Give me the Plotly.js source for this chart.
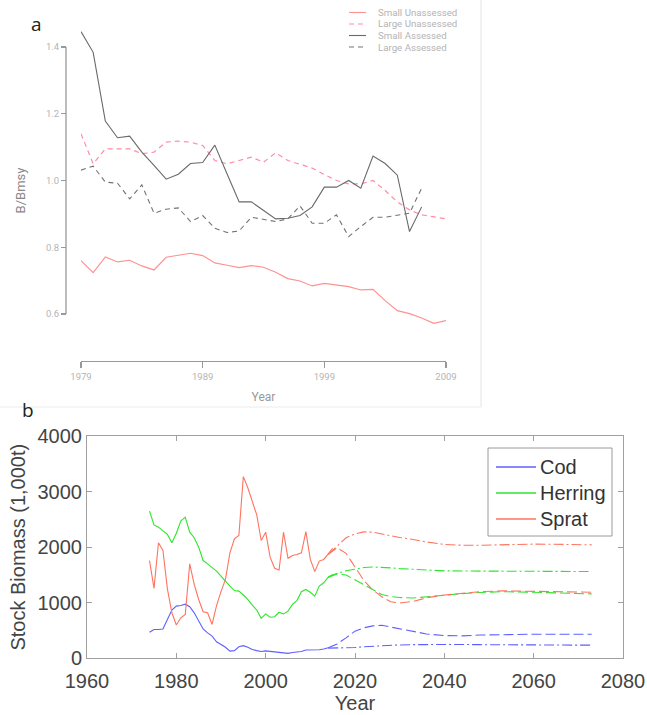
<!DOCTYPE html>
<html>
<head>
<meta charset="utf-8">
<script src="https://cdn.plot.ly/plotly-3.0.1.min.js"></script>
<style>html,body{margin:0;padding:0;background:#fff;}#chart{width:647px;height:715px;}</style>
</head>
<body>
<div id="chart"></div>
<script>
// ---------- Panel a data ----------
const yearsA = [1979,1980,1981,1982,1983,1984,1985,1986,1987,1988,1989,1990,1991,1992,1993,1994,1995,1996,1997,1998,1999,2000,2001,2002,2003,2004,2005,2006,2007,2008,2009];
const smallUnassessed = [0.760,0.724,0.771,0.756,0.761,0.744,0.732,0.770,0.776,0.782,0.775,0.753,0.746,0.739,0.745,0.740,0.725,0.706,0.699,0.684,0.692,0.688,0.682,0.672,0.674,0.640,0.610,0.601,0.588,0.572,0.580];
const largeUnassessed = [1.140,1.050,1.095,1.095,1.095,1.080,1.085,1.115,1.118,1.115,1.105,1.060,1.050,1.060,1.070,1.055,1.083,1.060,1.049,1.037,1.018,1.000,0.990,0.990,1.000,0.970,0.936,0.912,0.897,0.892,0.885];
const yearsAssessed = [1979,1980,1981,1982,1983,1984,1985,1986,1987,1988,1989,1990,1991,1992,1993,1994,1995,1996,1997,1998,1999,2000,2001,2002,2003,2004,2005,2006,2007];
const smallAssessed = [1.446,1.384,1.178,1.128,1.133,1.085,1.045,1.004,1.019,1.051,1.054,1.106,1.020,0.936,0.936,0.910,0.885,0.887,0.895,0.921,0.980,0.980,1.000,0.977,1.073,1.051,1.016,0.847,0.921];
const largeAssessed = [1.031,1.043,0.995,0.992,0.945,0.987,0.902,0.914,0.918,0.877,0.895,0.857,0.844,0.849,0.890,0.884,0.877,0.885,0.924,0.872,0.872,0.897,0.832,0.862,0.890,0.890,0.897,0.902,0.977];
const ticksA_x = [1979,1989,1999,2009];
const ticksA_y = [0.6,0.8,1.0,1.2,1.4];
const legendA = ["Small Unassessed","Large Unassessed","Small Assessed","Large Assessed"];

// ---------- Panel b data ----------
const yearsHist = [1974,1975,1976,1977,1978,1979,1980,1981,1982,1983,1984,1985,1986,1987,1988,1989,1990,1991,1992,1993,1994,1995,1996,1997,1998,1999,2000,2001,2002,2003,2004,2005,2006,2007,2008,2009,2010,2011,2012,2013,2014,2015];
const codHist = [470,520,520,530,700,870,940,950,975,930,820,670,530,460,400,300,250,200,130,140,210,230,200,160,140,125,135,125,115,108,100,90,105,115,125,150,150,150,155,170,190,null];
const herringHist = [2650,2400,2360,2300,2230,2080,2250,2470,2540,2270,2170,2000,1760,1700,1640,1570,1480,1380,1300,1220,1210,1140,1060,960,870,720,800,740,750,830,800,850,970,1040,1200,1240,1190,1120,1300,1360,1460,1510];
const spratHist = [1760,1260,2080,1940,1250,820,600,730,790,1700,1330,1060,840,820,610,950,1200,1420,1900,2150,2210,3270,3070,2830,2580,2120,2270,1820,1620,1590,2270,1800,1850,1870,1900,2280,1780,1560,1750,1780,1870,1980];
const yearsProj = [2014,2016,2018,2020,2022,2024,2026,2028,2030,2033,2036,2040,2044,2048,2053,2060,2067,2073];
const codDash = [190,260,370,490,550,585,595,565,530,490,440,410,405,420,430,435,435,435];
const codDashDot = [185,185,190,195,210,220,230,238,242,248,252,253,250,247,245,242,240,238];
const herringDash = [1460,1520,1500,1410,1320,1230,1150,1112,1095,1085,1110,1140,1165,1185,1200,1190,1175,1160];
const herringDashDot = [1460,1530,1575,1610,1635,1645,1640,1628,1615,1600,1588,1575,1572,1570,1570,1568,1565,1562];
const spratDash = [1870,1990,1890,1650,1400,1230,1110,1020,995,1025,1090,1140,1175,1200,1215,1205,1195,1190];
const spratDashDot = [1870,2020,2170,2240,2275,2270,2235,2200,2175,2140,2095,2050,2035,2035,2042,2055,2050,2042];
const speciesB = ["Cod","Herring","Sprat"];

// ---------- styles ----------
const W = 647, H = 715;
const px = x => x / W;
const py = y => 1 - y / H;
const cPinkSolid = 'rgb(255,145,145)';
const cPinkDash = 'rgb(255,140,165)';
const cGraySolid = 'rgb(105,105,105)';
const cGrayDash = 'rgb(115,115,115)';
const cCod = 'rgb(95,95,255)';
const cHer = 'rgb(45,230,45)';
const cSpr = 'rgb(255,115,95)';
const dashA = '5px,4px';
const dashB = '10px,4px';
const dashDotB = '10px,3px,2px,3px';

const traces = [
  {x: yearsA, y: smallUnassessed, mode:'lines', line:{color:cPinkSolid, width:1.2}, xaxis:'x', yaxis:'y', name:legendA[0]},
  {x: yearsA, y: largeUnassessed, mode:'lines', line:{color:cPinkDash, width:1.2, dash:dashA}, xaxis:'x', yaxis:'y', name:legendA[1]},
  {x: yearsAssessed, y: smallAssessed, mode:'lines', line:{color:cGraySolid, width:1.1}, xaxis:'x', yaxis:'y', name:legendA[2]},
  {x: yearsAssessed, y: largeAssessed, mode:'lines', line:{color:cGrayDash, width:1.1, dash:dashA}, xaxis:'x', yaxis:'y', name:legendA[3]},

  {x: yearsHist, y: codHist, mode:'lines', line:{color:cCod, width:1.1}, xaxis:'x2', yaxis:'y2', name:speciesB[0]},
  {x: yearsHist, y: herringHist, mode:'lines', line:{color:cHer, width:1.1}, xaxis:'x2', yaxis:'y2', name:speciesB[1]},
  {x: yearsHist, y: spratHist, mode:'lines', line:{color:cSpr, width:1.1}, xaxis:'x2', yaxis:'y2', name:speciesB[2]},
  {x: yearsProj, y: codDash, mode:'lines', line:{color:cCod, width:1.1, dash:dashB}, xaxis:'x2', yaxis:'y2'},
  {x: yearsProj, y: codDashDot, mode:'lines', line:{color:cCod, width:1.1, dash:dashDotB}, xaxis:'x2', yaxis:'y2'},
  {x: yearsProj, y: herringDash, mode:'lines', line:{color:cHer, width:1.1, dash:dashB}, xaxis:'x2', yaxis:'y2'},
  {x: yearsProj, y: herringDashDot, mode:'lines', line:{color:cHer, width:1.1, dash:dashDotB}, xaxis:'x2', yaxis:'y2'},
  {x: yearsProj, y: spratDash, mode:'lines', line:{color:cSpr, width:1.1, dash:dashB}, xaxis:'x2', yaxis:'y2'},
  {x: yearsProj, y: spratDashDot, mode:'lines', line:{color:cSpr, width:1.1, dash:dashDotB}, xaxis:'x2', yaxis:'y2'}
];
traces.forEach(t => { t.showlegend = false; t.hoverinfo = 'skip'; t.connectgaps = false; });

// panel a y scale: 1.4 at y=47, 0.6 at y=314
const pxPerUnit = (314 - 47) / 0.8;
const aTop = 20, aBot = 361;
const yRangeA = [0.6 - (aBot - 314) / pxPerUnit, 1.4 + (47 - aTop) / pxPerUnit];

const fontA = 'Roboto, "Liberation Sans", sans-serif';
const fontB = '"Liberation Sans", Arial, sans-serif';

const shapes = [
  {type:'line', xref:'paper', yref:'y', x0:px(66), x1:px(66), y0:0.6, y1:1.4, line:{color:'#999', width:1.3}},
  {type:'line', xref:'paper', yref:'paper', x0:px(481), x1:px(481), y0:py(0), y1:py(407), line:{color:'#e4e4e4', width:1}},
  {type:'line', xref:'paper', yref:'paper', x0:0, x1:px(481), y0:py(407), y1:py(407), line:{color:'#ececec', width:1}},
];
const annotations = [
  {text:'a', xref:'paper', yref:'paper', x:px(36), y:py(24), xanchor:'center', yanchor:'middle', showarrow:false, font:{size:19, color:'#222', family:'"Open Sans", sans-serif'}},
  {text:'b', xref:'paper', yref:'paper', x:px(28), y:py(410), xanchor:'center', yanchor:'middle', showarrow:false, font:{size:19, color:'#222', family:'"Open Sans", sans-serif'}},
];

const legARows = [12.5, 24, 35.5, 47];
const legAStyles = [[cPinkSolid,'solid'],[cPinkDash,dashA],[cGraySolid,'solid'],[cGrayDash,dashA]];
legendA.forEach((lab, i) => {
  shapes.push({type:'line', xref:'paper', yref:'paper', x0:px(349), x1:px(366), y0:py(legARows[i]), y1:py(legARows[i]), line:{color:legAStyles[i][0], width:1.1, dash:legAStyles[i][1]}});
  annotations.push({text:lab, xref:'paper', yref:'paper', x:px(376), y:py(legARows[i]), xanchor:'left', yanchor:'middle', showarrow:false, font:{size:9.7, color:'#b4b4b4', family:fontA}});
});

shapes.push({type:'rect', xref:'paper', yref:'paper', x0:px(488), x1:px(612), y0:py(536), y1:py(448), line:{color:'#9a9a9a', width:1}, fillcolor:'#fff', layer:'above'});
const legBRows = [467, 493, 519];
const legBCols = [cCod, cHer, cSpr];
speciesB.forEach((lab, i) => {
  shapes.push({type:'line', xref:'paper', yref:'paper', x0:px(496), x1:px(536), y0:py(legBRows[i]), y1:py(legBRows[i]), line:{color:legBCols[i], width:1.3}, layer:'above'});
  annotations.push({text:lab, xref:'paper', yref:'paper', x:px(538), y:py(legBRows[i]), xanchor:'left', yanchor:'middle', showarrow:false, font:{size:20, color:'#333', family:fontB}});
});

const layout = {
  width: W, height: H,
  margin: {l:0, r:0, t:0, b:0, pad:0},
  paper_bgcolor:'#fff', plot_bgcolor:'rgba(0,0,0,0)',
  showlegend:false,
  xaxis: {
    domain:[px(81), px(446)], range:[1979, 2009], anchor:'y',
    tickvals: ticksA_x, ticktext: ticksA_x.map(String),
    showline:true, linecolor:'#999', linewidth:1.3,
    ticks:'outside', ticklen:6, tickcolor:'#999', tickwidth:1.2,
    showgrid:false, zeroline:false, automargin:false,
    tickfont:{size:9.5, color:'#b4b4b4', family:fontA},
    title:{text:'Year', font:{size:12, color:'#999', family:fontA}, standoff:12}
  },
  yaxis: {
    domain:[py(aBot), py(aTop)], range:yRangeA, anchor:'free', position:px(66),
    tickvals: ticksA_y, ticktext: ticksA_y.map(v => v.toFixed(1)),
    showline:false, ticks:'outside', ticklen:5, tickcolor:'#999', tickwidth:1.2,
    showgrid:false, zeroline:false, automargin:false,
    tickfont:{size:9.5, color:'#b4b4b4', family:fontA},
    title:{text:'B/Bmsy', font:{size:13, color:'#888', family:fontA}, standoff:16}
  },
  xaxis2: {
    domain:[px(87), px(623)], range:[1960, 2080], anchor:'y2',
    dtick:20, tick0:1960,
    showline:true, mirror:'ticks', linecolor:'#a0a0a0', linewidth:1,
    ticks:'inside', ticklen:5, tickcolor:'#a0a0a0',
    showgrid:false, zeroline:false, automargin:false,
    ticklabelstandoff:5,
    tickfont:{size:20, color:'#444', family:fontB},
    title:{text:'Year', font:{size:20, color:'#444', family:fontB}, standoff:4}
  },
  yaxis2: {
    domain:[py(658.4), py(436)], range:[0, 4000], anchor:'x2',
    dtick:1000, tick0:0,
    showline:true, mirror:'ticks', linecolor:'#a0a0a0', linewidth:1,
    ticks:'inside', ticklen:5, tickcolor:'#a0a0a0',
    showgrid:false, zeroline:false, automargin:false,
    tickfont:{size:20, color:'#444', family:fontB},
    title:{text:'Stock Biomass (1,000t)', font:{size:20, color:'#444', family:fontB}, standoff:6}
  },
  shapes: shapes,
  annotations: annotations
};

Plotly.newPlot('chart', traces, layout, {staticPlot:true, displayModeBar:false});
</script>
</body>
</html>
